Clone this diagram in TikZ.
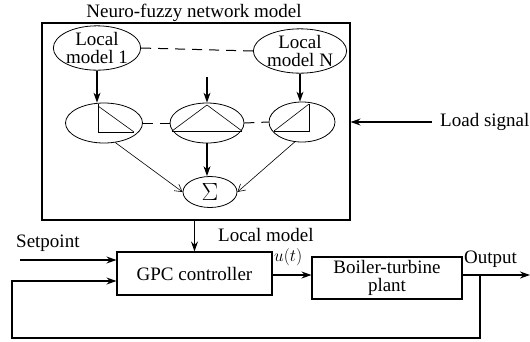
\documentclass[tikz,border=0pt]{standalone}
\usepackage{fontspec}
\setmainfont[Ligatures=TeX]{Liberation Serif}
\usetikzlibrary{shapes.geometric,arrows.meta}
\begin{document}
\begin{tikzpicture}[x=1pt,y=-1pt, font=\rmfamily\fontsize{19}{18}\selectfont,
 ell/.style={ellipse,draw,line width=0.8pt,inner sep=0pt},
 blk/.style={draw,line width=1.1pt,inner sep=0pt},
 tarrow/.style={line width=1.1pt,-{Stealth[length=10pt,width=7pt]}},
 narrow/.style={line width=0.6pt,-{Straight Barb[length=7pt,width=8pt]}},
 dline/.style={line width=1pt,dash pattern=on 10pt off 7pt},
 mf/.style={line width=1pt},
 mfd/.style={line width=0.6pt}
]
\useasboundingbox (0,0) rectangle (530,341);
% outer box
\node[blk,minimum width=308,minimum height=197] (nf) at (196,121.5) {};
\node (title) at (194,13) {Neuro-fuzzy network model};
% local models
\node[ell,minimum width=79,minimum height=37,align=center] (lm1) at (97,48) {Local\\model 1};
\node[ell,minimum width=76,minimum height=38,align=center] (lmN) at (300,51) {Local\\model N};
\draw[dline] (lm1.east) -- (lmN.west);
% membership ellipses
\node[ell,minimum width=77,minimum height=40] (m1) at (104,123) {};
\node[ell,minimum width=74,minimum height=40] (m2) at (207,123) {};
\node[ell,minimum width=66,minimum height=40] (m3) at (302,122) {};
\draw[dline] (m1.east) -- (m2.west);
\draw[dline] (m2.east) -- (m3.west);
% membership functions
\draw[mf] (98,104) -- (98,132) -- (134,132);
\draw[mfd] (98,106) -- (134,132);
\draw[mf] (172,131) -- (242,131);
\draw[mfd] (172,131) -- (207,105) -- (242,131);
\draw[mf] (309,104) -- (309,131) -- (274,131);
\draw[mfd] (274,131) -- (309,104);
% coordinate for the middle input
\coordinate (min) at (207,77);
\draw[tarrow] (lm1.south) -- (lm1.south |- m1.north);
\draw[tarrow] (lmN.south) -- (lmN.south |- m3.north);
\draw[tarrow] (min) -- (min |- m2.north);
% sum
\node[ell,minimum width=54,minimum height=31] (sum) at (210,192) {\fontsize{24}{24}\selectfont$\Sigma$};
\draw[narrow] (m1.-60) -- (sum.west);
\draw[tarrow] (m2.south) -- (m2.south |- sum.north);
\draw[narrow] (m3.-110) -- (sum.east);
% load signal
\node[anchor=west,inner sep=0pt] (load) at (440,122) {Load signal};
\draw[tarrow] (432,122) coordinate (ls) -- (ls -| nf.east);
% bottom loop
\node[blk,minimum width=155,minimum height=43] (gpc) at (194.5,273.5) {GPC controller};
\node[blk,minimum width=150,minimum height=42,align=center] (bt) at (387,278) {Boiler-turbine\\plant};
\draw[tarrow] (gpc.north |- nf.south) -- (gpc.north);
\node[anchor=west,inner sep=0pt] (lmlab) at (218,235) {Local model};
\coordinate (sp) at (20,260);
\node[anchor=south west,inner sep=0pt] (splab) at (16,252) {Setpoint};
\draw[tarrow] (sp) -- (sp -| gpc.west);
\draw[tarrow] (gpc.east |- 0,275) coordinate (ua) -- (ua -| bt.west);
\node[anchor=south west,inner sep=0pt] (ulab) at (274,266) {$u(t)$};
\coordinate (out) at (530,275);
\draw[tarrow] (bt.east |- out) -- (out);
\node[anchor=south west,inner sep=0pt] (olab) at (464,268) {Output};
\coordinate (br) at (480,275);
\draw[tarrow] (br) -- (480,338) -- (12,338) -- (12,281) -- (gpc.west |- 0,281);
\end{tikzpicture}
\end{document}
